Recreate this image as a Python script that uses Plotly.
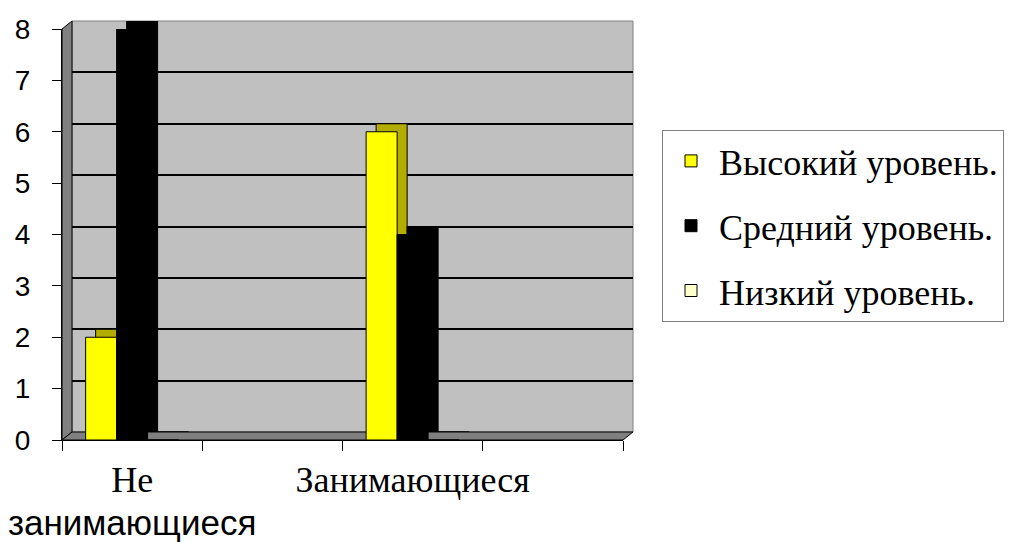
import plotly.graph_objects as go

categories = [
    "<span style='font-size:36px'>Не</span><br><span style='font-family:Liberation Sans;font-size:35px'>занимающиеся</span>",
    " ",
    "<span style='font-size:36px'>Занимающиеся</span>",
    "  ",
]
series_names = ["Высокий уровень.", "Средний уровень.", "Низкий уровень."]
high = [2, None, 6, None]
mid = [8, None, 4, None]
low = [0, None, 0, None]
y_ticks = [0, 1, 2, 3, 4, 5, 6, 7, 8]

SERIF = "Times New Roman"
SANS = "Liberation Sans"

W, H = 1027, 542
def px(x):
    return x / W
def py(y):
    return 1 - y / H

# front plane and back wall (pixel geometry)
FX0, FX1, FY0, FY1 = 62, 623, 440, 29
DX, DY = 10, 8
BX0, BX1, BY0, BY1 = FX0 + DX, FX1 + DX, FY0 - DY, FY1 - DY

front_colors = ["#FFFF00", "#000000", "#FFFFCC"]
back_colors = ["#B3AD00", "#000000", "#CCCC99"]
series = [high, mid, low]

fig = go.Figure()
# back (depth) bars
for name, vals, col in zip(series_names, series, back_colors):
    fig.add_trace(go.Bar(x=categories, y=vals, name=name, marker=dict(color=col, line=dict(color="black", width=1)),
                         xaxis="x", yaxis="y", showlegend=False, legendgroup=name, hoverinfo="skip", cliponaxis=False))
# front bars
for name, vals, col in zip(series_names, series, front_colors):
    fig.add_trace(go.Bar(x=categories, y=vals, name=name, marker=dict(color=col, line=dict(color="black", width=1)),
                         xaxis="x2", yaxis="y2", legendgroup=name, cliponaxis=False))

shapes = [
    # back wall
    dict(type="rect", xref="paper", yref="paper", x0=px(BX0), x1=px(BX1), y0=py(BY0), y1=py(BY1),
         fillcolor="#C0C0C0", line=dict(color="#808080", width=1), layer="below"),
    # left wall
    dict(type="path", xref="paper", yref="paper",
         path=f"M {px(FX0)},{py(FY0)} L {px(BX0)},{py(BY0)} L {px(BX0)},{py(BY1)} L {px(FX0)},{py(FY1)} Z",
         fillcolor="#808080", line=dict(color="black", width=1), layer="below"),
    # floor
    dict(type="path", xref="paper", yref="paper",
         path=f"M {px(FX0)},{py(FY0)} L {px(FX1)},{py(FY0)} L {px(BX1)},{py(BY0)} L {px(BX0)},{py(BY0)} Z",
         fillcolor="#808080", line=dict(color="black", width=1), layer="below"),
]

fig.update_layout(
    width=W, height=H,
    margin=dict(l=0, r=0, t=0, b=0, autoexpand=False),
    paper_bgcolor="white", plot_bgcolor="rgba(0,0,0,0)",
    font=dict(family=SERIF, color="black"),
    barmode="group", bargap=0.337, bargroupgap=0,
    shapes=shapes,
    showlegend=True,
    legend=dict(x=px(662), y=py(130), xanchor="left", yanchor="top",
                bordercolor="#808080", borderwidth=1, bgcolor="white",
                font=dict(family=SERIF, size=36, color="black"),
                itemwidth=46, traceorder="grouped", tracegroupgap=15),
    xaxis=dict(domain=[px(BX0), px(BX1)], anchor="y", type="category", showticklabels=False, automargin=False,
               showgrid=False, showline=False, ticks="", zeroline=False, fixedrange=True),
    yaxis=dict(domain=[py(BY0), py(BY1)], anchor="x", range=[0, 8], tickvals=y_ticks, showticklabels=False,
               automargin=False, showgrid=True, gridcolor="black", gridwidth=1.5, zeroline=False,
               showline=False, ticks=""),
    xaxis2=dict(domain=[px(FX0), px(FX1)], anchor="y2", type="category", showgrid=False, automargin=False,
                showline=True, linecolor="black", linewidth=1, ticks="outside", ticklen=10, tickcolor="black",
                tickson="boundaries", tickfont=dict(family=SERIF, size=33, color="black"),
                ticklabelstandoff=11, tickangle=0),
    yaxis2=dict(domain=[py(FY0), py(FY1)], anchor="x2", range=[0, 8], tickvals=y_ticks, showgrid=False,
                automargin=False, zeroline=False, showline=True, linecolor="black", linewidth=1,
                ticks="outside", ticklen=9, tickcolor="black",
                tickfont=dict(family=SANS, size=28, color="black"), ticklabelstandoff=16),
)

fig.write_html("out.html", config={"displayModeBar": False},
               post_script="document.body.style.margin='0';")
